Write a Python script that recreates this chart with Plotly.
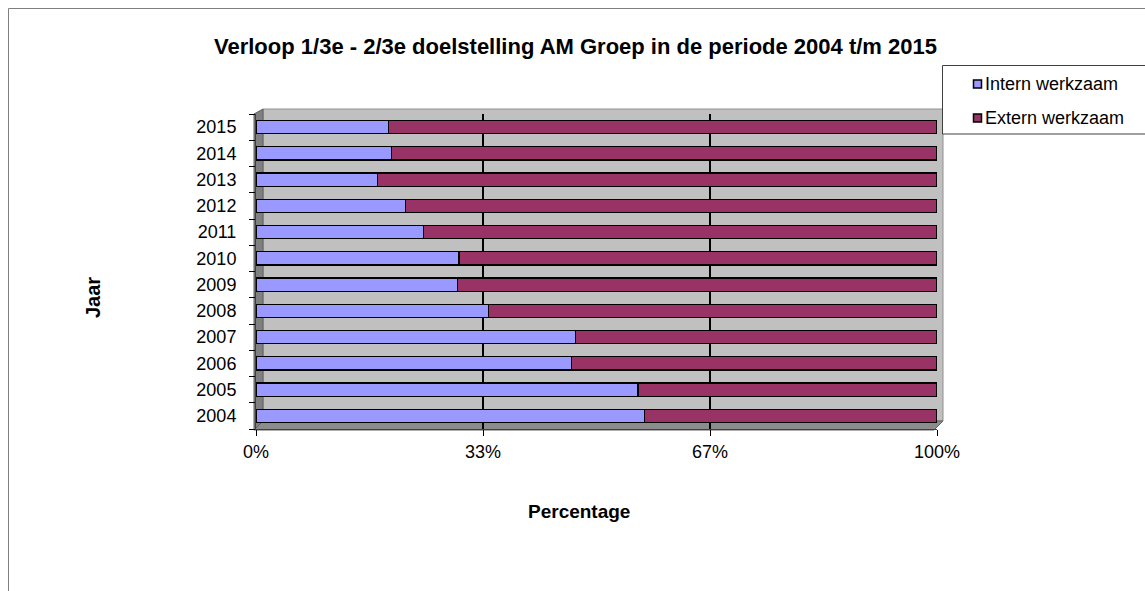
import plotly.graph_objects as go

# ---- data ----
years = ["2004", "2005", "2006", "2007", "2008", "2009", "2010",
         "2011", "2012", "2013", "2014", "2015"]
intern = [57.0, 56.1, 46.3, 46.9, 34.1, 29.6, 29.8, 24.6, 22.0, 17.8, 19.9, 19.4]
extern = [43.0, 43.9, 53.7, 53.1, 65.9, 70.4, 70.2, 75.4, 78.0, 82.2, 80.1, 80.6]
series_names = ["Intern werkzaam", "Extern werkzaam"]
series_colors = ["#9999FF", "#993366"]
tick_vals = [0, 100 / 3, 200 / 3, 100]
tick_text = ["0%", "33%", "67%", "100%"]
title_text = "Verloop 1/3e - 2/3e doelstelling AM Groep in de periode 2004 t/m 2015"

W, H = 1145, 591
L, R, T, B = 256, 937, 114, 429  # plot area in pixels


def px(x):
    return (x - L) / (R - L)


def py(y):
    return (B - y) / (B - T)


FONT = "Liberation Sans, Arial, sans-serif"

fig = go.Figure()
for name, vals, col in zip(series_names, [intern, extern], series_colors):
    fig.add_trace(go.Bar(
        y=years, x=vals, name=name, orientation="h",
        marker=dict(color=col, line=dict(color="black", width=1.2)),
        width=0.5, showlegend=False,
    ))

shapes = []
# outer chart frame
shapes.append(dict(type="line", xref="paper", yref="paper",
                   x0=px(8.5), x1=px(8.5), y0=py(8.5), y1=py(600),
                   line=dict(color="#7f7f7f", width=1), layer="above"))
shapes.append(dict(type="line", xref="paper", yref="paper",
                   x0=px(8.5), x1=px(1150), y0=py(8.5), y1=py(8.5),
                   line=dict(color="#7f7f7f", width=1), layer="above"))
# back wall
shapes.append(dict(type="rect", xref="paper", yref="paper",
                   x0=px(263), x1=px(943), y0=py(421), y1=py(109),
                   fillcolor="#C0C0C0", line=dict(color="#909090", width=1),
                   layer="below"))
# left side wall
shapes.append(dict(type="path", xref="paper", yref="paper",
                   path=f"M {px(254)} {py(114)} L {px(263)} {py(109)} L {px(263)} {py(421)} L {px(254)} {py(430)} Z",
                   fillcolor="#808080", line=dict(color="#606060", width=1),
                   layer="below"))
# floor
shapes.append(dict(type="path", xref="paper", yref="paper",
                   path=f"M {px(254)} {py(430)} L {px(263)} {py(421)} L {px(943)} {py(421)} L {px(934)} {py(430)} Z",
                   fillcolor="#8C8C8C", line=dict(color="#606060", width=1),
                   layer="below"))
# legend box
shapes.append(dict(type="rect", xref="paper", yref="paper",
                   x0=px(942.5), x1=px(1160), y0=py(134), y1=py(65.5),
                   fillcolor="white", line=dict(color="#404040", width=1),
                   layer="above"))

annotations = [
    dict(text=f"<b>{title_text}</b>", xref="paper", yref="paper",
         x=px(575), y=py(46), showarrow=False,
         font=dict(family=FONT, size=22, color="black"),
         xanchor="center", yanchor="middle"),
    dict(text="<b>Percentage</b>", xref="paper", yref="paper",
         x=px(579), y=py(511), showarrow=False,
         font=dict(family=FONT, size=19, color="black"),
         xanchor="center", yanchor="middle"),
    dict(text="<b>Jaar</b>", xref="paper", yref="paper",
         x=px(93), y=py(298), showarrow=False, textangle=-90,
         font=dict(family=FONT, size=20, color="black"),
         xanchor="center", yanchor="middle"),
]

legend_y = [84, 118]
for name, col, ly in zip(series_names, series_colors, legend_y):
    shapes.append(dict(type="rect", xref="paper", yref="paper",
                       x0=px(973.5), x1=px(981.5), y0=py(ly + 4), y1=py(ly - 4),
                       fillcolor=col, line=dict(color="black", width=1.5),
                       layer="above"))
    annotations.append(dict(text=name, xref="paper", yref="paper",
                            x=px(983), y=py(ly), showarrow=False,
                            xanchor="left", yanchor="middle",
                            font=dict(family=FONT, size=18, color="black")))

fig.update_layout(
    width=W, height=H,
    margin=dict(l=L, r=W - R, t=T, b=H - B, pad=0),
    barmode="stack",
    paper_bgcolor="white",
    plot_bgcolor="rgba(0,0,0,0)",
    font=dict(family=FONT, size=18, color="black"),
    shapes=shapes,
    annotations=annotations,
    showlegend=False,
)
fig.update_xaxes(
    range=[0, 100], tickvals=tick_vals, ticktext=tick_text,
    showgrid=True, gridcolor="black", gridwidth=1.5,
    zeroline=False, showline=True, linecolor="#404040", linewidth=1,
    ticks="outside", ticklen=6, tickcolor="black",
    ticklabelstandoff=0,
    tickfont=dict(family=FONT, size=18, color="black"),
)
fig.update_yaxes(
    type="category", categoryorder="array", categoryarray=years,
    showgrid=False, zeroline=False,
    showline=True, linecolor="#404040", linewidth=1,
    ticks="outside", ticklen=6, tickcolor="black", tickson="boundaries",
    ticklabelstandoff=15,
    tickfont=dict(family=FONT, size=18, color="black"),
)

fig.write_html("out.html")
